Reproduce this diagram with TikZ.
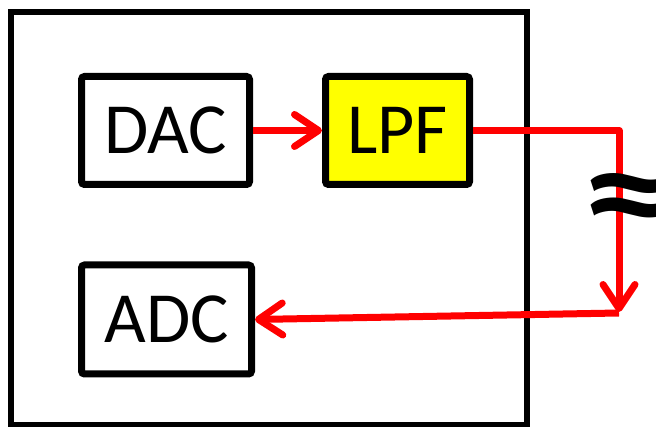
\documentclass[tikz,border=0pt]{standalone}
\usepackage{fontspec}
\usepackage{graphicx}
\setmainfont{Carlito}
\usetikzlibrary{arrows.meta}
\definecolor{lpfyellow}{RGB}{255,255,0}
\begin{document}
\begin{tikzpicture}[x=1pt,y=-1pt,
  blk/.style={draw=black,line width=7pt,rounded corners=3pt,inner sep=0pt,
    font=\fontsize{72}{72}\selectfont,text=black},
  sig/.style={draw=red,line width=7pt,line join=round,
    -{Straight Barb[length=24pt,width=32pt,line cap=round,line join=round]}},
  sigline/.style={draw=red,line width=7pt,line join=round}]
\useasboundingbox (0,0) rectangle (656,427);
\node[draw=black,line width=6pt,minimum width=516pt,minimum height=413pt,inner sep=0pt] (frame) at (269,218.5) {};
\node[blk,fill=white,minimum width=168pt,minimum height=108pt] (dac) at (165.5,130.5) {DAC};
\node[blk,fill=lpfyellow,minimum width=144pt,minimum height=108pt] (lpf) at (397.5,130.5) {LPF};
\node[blk,fill=white,minimum width=170pt,minimum height=109pt] (adc) at (166.5,319.5) {ADC};
\coordinate (c1) at (619,130.5);
\coordinate (c2) at (619,312);
\coordinate (c3) at (619,313);
\draw[sig] (dac.east) -- (lpf.west);
\draw[sig] (lpf.east) -- (c1) -- (c2);
\draw[sig] (c3) -- (adc.east);
\node[font=\bfseries\fontsize{200}{200}\selectfont,inner sep=0pt] (approx) at (631,208) {\scalebox{1}[0.72]{≈}};
\end{tikzpicture}
\end{document}
